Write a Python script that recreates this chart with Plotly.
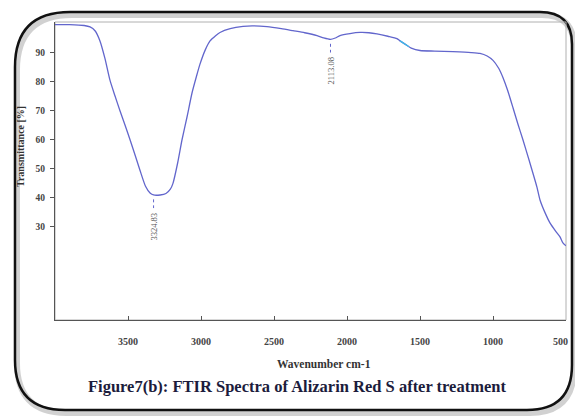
import plotly.graph_objects as go

wavenumber = [4000, 3900, 3800, 3760, 3726, 3692, 3658, 3623, 3590, 3555, 3520, 3486, 3450, 3418, 3380, 3349,
              3324.83, 3280, 3240, 3210, 3192, 3160, 3130, 3095, 3062, 3030, 3007, 2970, 2938, 2900, 2870,
              2800, 2712, 2650, 2548, 2450, 2370, 2290, 2205, 2160, 2113.08, 2080, 2048, 1980, 1911, 1850,
              1795, 1720, 1658, 1637, 1600, 1555, 1500, 1400, 1274, 1150, 1089, 1040, 1000, 960, 932, 900,
              863, 830, 795, 750, 699, 678, 640, 610, 570, 541, 521, 500]
transmittance = [99.6, 99.6, 99.3, 98.8, 97.5, 94, 88, 80.4, 75.2, 70, 65, 60, 54.5, 49.5, 44, 41.7,
                 41, 41, 41.5, 43, 45, 52, 60, 68, 76, 82, 86, 91, 94, 95.8, 96.9,
                 98.2, 99.0, 99.2, 98.9, 98.2, 97.5, 96.8, 95.8, 95.0, 94.5, 95.0, 95.8, 96.5, 96.9, 96.8,
                 96.4, 95.6, 94.8, 94, 92.8, 91.4, 90.7, 90.5, 90.3, 90.0, 89.7, 88.8, 87.3, 84.5, 81.4, 77,
                 71, 65.5, 60, 52.5, 43.7, 39.3, 34.5, 31.4, 28.5, 26.6, 24.5, 23.5]
cyan_wn = [1637, 1600, 1575]
cyan_t = [94, 92.8, 92.0]
peak_wn = [3324.83, 2113.08]
peak_t = [41, 94.5]
peak_labels = ["3324.83", "2113.08"]
x_ticks = [3500, 3000, 2500, 2000, 1500, 1000, 500]
x_ticktext = ["3500", "3000", "2500", "2000", "1500", "1000", ""]
last_tick_value = 500
last_tick_label = "500"
y_ticks = [30, 40, 50, 60, 70, 80, 90]

W, H = 575, 416
L, R, T, B = 55, 9, 22, 96
pw, ph = W - L - R, H - T - B

def px(x):
    return (x - L) / pw

def py(y):
    return (H - B - y) / ph

def rounded(x0, y0, x1, y1, rtl, rtr, rbr, rbl, dx=0, dy=0):
    def P(x, y):
        return f"{px(x+dx):.4f},{py(y+dy):.4f}"
    s = f"M {P(x0+rtl, y0)} L {P(x1-rtr, y0)} Q {P(x1, y0)} {P(x1, y0+rtr)} "
    s += f"L {P(x1, y1-rbr)} Q {P(x1, y1)} {P(x1-rbr, y1)} "
    s += f"L {P(x0+rbl, y1)} Q {P(x0, y1)} {P(x0, y1-rbl)} "
    s += f"L {P(x0, y0+rtl)} Q {P(x0, y0)} {P(x0+rtl, y0)} Z"
    return s

tickfont = dict(family="Liberation Serif", size=10, color="#444444", weight="bold")

fig = go.Figure()
fig.add_trace(go.Scatter(x=wavenumber, y=transmittance, mode="lines", line_shape="spline",
                         line=dict(color="#6266cc", width=1.3, smoothing=0.6), showlegend=False))
fig.add_trace(go.Scatter(x=cyan_wn, y=cyan_t, mode="lines",
                         line=dict(color="#3fb8e8", width=1.3), showlegend=False))

shapes = []
shapes.append(dict(type="path", xref="paper", yref="paper",
                   path=rounded(15, 12, 572, 410, 55, 32, 45, 50, dx=2, dy=3),
                   line=dict(color="rgba(0,0,0,0.18)", width=6), layer="below"))
shapes.append(dict(type="path", xref="paper", yref="paper",
                   path=rounded(15, 12, 572, 410, 55, 32, 45, 50),
                   line=dict(color="#111111", width=2.5), layer="below"))
shapes.append(dict(type="rect", xref="paper", yref="paper", x0=0, x1=1, y0=0, y1=1,
                   line=dict(color="#b0b0b0", width=1), layer="below"))
for wn, t in zip(peak_wn, peak_t):
    shapes.append(dict(type="line", xref="x", yref="y", x0=wn, x1=wn, y0=t - 1.5, y1=t - 4.5,
                       line=dict(color="#6266cc", width=1, dash="dot")))

annotations = []
for wn, t, lab in zip(peak_wn, peak_t, peak_labels):
    annotations.append(dict(x=wn, y=t - 5.5, xref="x", yref="y", text=lab, textangle=-90,
                            showarrow=False, yanchor="top", xanchor="center",
                            font=dict(family="Liberation Serif", size=8.5, color="#555555")))
annotations.append(dict(x=last_tick_value, y=py(341), xref="x", yref="paper", text=last_tick_label,
                        showarrow=False, xanchor="center", yanchor="middle", xshift=-6, font=tickfont))
annotations.append(dict(x=px(20), y=py(147), xref="paper", yref="paper", text="<b>Transmittance [%]</b>",
                        textangle=-90, showarrow=False, xanchor="center", yanchor="middle",
                        font=dict(family="Liberation Serif", size=10, color="#333333")))
annotations.append(dict(x=px(324), y=py(364), xref="paper", yref="paper", text="<b>Wavenumber cm-1</b>",
                        showarrow=False, xanchor="center", yanchor="middle",
                        font=dict(family="Liberation Serif", size=11.5, color="#333333")))
annotations.append(dict(x=px(297), y=py(386), xref="paper", yref="paper",
                        text="<b>Figure7(b): FTIR Spectra of Alizarin Red S after treatment</b>",
                        showarrow=False, xanchor="center", yanchor="middle",
                        font=dict(family="Liberation Serif", size=16.5, color="#1c1c3c")))

fig.update_layout(
    width=W, height=H, margin=dict(l=L, r=R, t=T, b=B, autoexpand=False),
    paper_bgcolor="white", plot_bgcolor="white",
    shapes=shapes, annotations=annotations, showlegend=False,
    xaxis=dict(range=[4000, 500], tickvals=x_ticks, ticktext=x_ticktext,
               showgrid=False, zeroline=False, showline=True, linecolor="#555555", linewidth=1,
               ticks="inside", ticklen=4, tickcolor="#555555", ticklabelstandoff=12,
               tickfont=tickfont),
    yaxis=dict(range=[-2, 100.5], tickvals=y_ticks, ticktext=[str(v) for v in y_ticks],
               showgrid=False, zeroline=False, showline=True, linecolor="#555555", linewidth=1,
               ticks="outside", ticklen=4, tickcolor="#555555", ticklabelstandoff=3,
               tickfont=dict(family="Liberation Serif", size=9.5, color="#444444", weight="bold")),
)

fig.write_html("out.html")
